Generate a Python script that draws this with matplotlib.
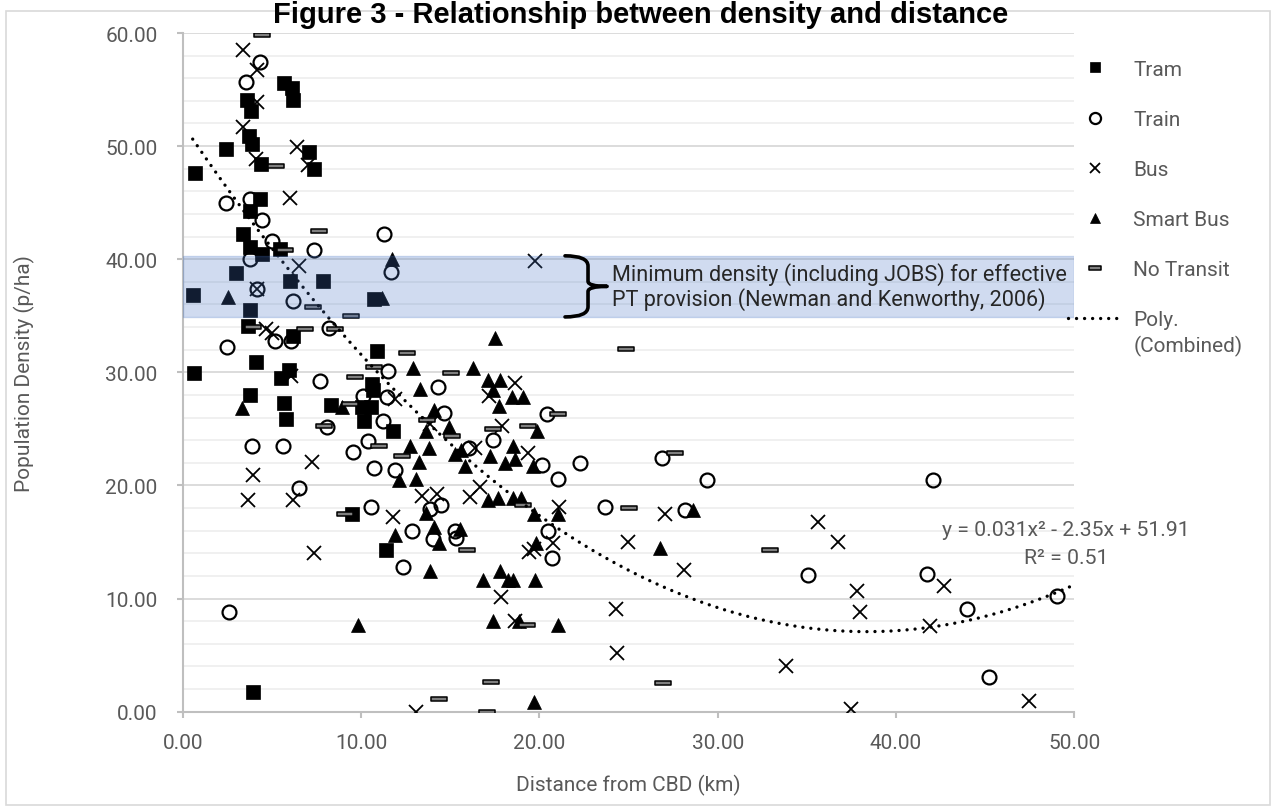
import numpy as np
import matplotlib
matplotlib.use("Agg")
import matplotlib.pyplot as plt
from matplotlib.path import Path
from matplotlib.patches import PathPatch, Rectangle
from matplotlib.ticker import FormatStrFormatter

# ---------------- data ----------------
tram_x = [5.70, 6.11, 6.20, 3.63, 3.83, 3.70, 3.90, 2.43, 7.08, 4.39, 7.38, 0.69, 4.34, 3.78,
          3.36, 3.78, 4.43, 5.46, 2.97, 6.02, 7.89, 0.56, 10.73, 3.78, 3.68, 6.17, 4.11, 10.88,
          0.63, 5.98, 5.50, 10.60, 10.69, 3.78, 5.68, 5.79, 8.32, 10.04, 10.56, 10.17, 11.81,
          9.48, 11.40, 3.93]
tram_y = [55.6, 55.1, 54.1, 54.1, 53.1, 50.9, 50.2, 49.75, 49.5, 48.4, 48.0, 47.6, 45.3, 44.3,
          42.2, 41.1, 40.5, 40.9, 38.8, 38.05, 38.05, 36.8, 36.5, 35.5, 34.1, 33.25, 30.9, 31.9,
          29.95, 30.2, 29.5, 28.97, 28.4, 28.0, 27.3, 25.9, 27.1, 26.9, 26.9, 25.7, 24.85,
          17.5, 14.3, 1.7]

train_x = [4.34, 3.55, 2.43, 3.78, 4.43, 11.31, 5.03, 7.38, 3.78, 11.68, 4.15, 6.20, 5.18, 6.06,
           2.50, 8.22, 11.50, 7.70, 10.13, 11.48, 11.25, 8.08, 3.90, 5.61, 10.41, 9.57, 10.73,
           11.91, 6.50, 10.54, 12.37, 2.62, 14.34, 14.66, 20.41, 17.42, 16.08, 20.13, 22.28,
           21.07, 26.86, 23.69, 13.87, 14.49, 12.84, 14.02, 15.27, 15.33, 20.47, 20.70, 29.42,
           42.10, 28.17, 35.05, 41.73, 43.97, 49.02, 45.22]
train_y = [57.4, 55.7, 45.0, 45.3, 43.5, 42.2, 41.6, 40.8, 40.0, 38.9, 37.4, 36.3, 32.75, 32.8,
           32.2, 33.9, 30.15, 29.2, 27.9, 27.8, 25.7, 25.15, 23.5, 23.5, 23.9, 23.0, 21.5,
           21.4, 19.8, 18.1, 12.8, 8.8, 28.7, 26.4, 26.3, 24.0, 23.3, 21.8, 22.0,
           20.6, 22.4, 18.07, 17.9, 18.3, 16.0, 15.3, 16.0, 15.4, 16.0, 13.56, 20.5,
           20.5, 17.8, 12.1, 12.15, 9.1, 10.26, 3.1]

bus_x = [3.40, 4.19, 4.15, 3.40, 6.39, 4.11, 7.01, 6.02, 6.52, 4.15, 19.76, 4.65, 5.00, 6.06,
         11.90, 7.27, 3.93, 3.64, 6.20, 11.78, 7.38, 13.07, 18.64, 17.20, 13.87, 17.89, 16.39,
         19.38, 13.40, 14.24, 16.11, 16.67, 21.12, 27.05, 20.79, 19.44, 19.70, 24.99, 17.83,
         24.30, 18.64, 24.34, 35.65, 36.73, 28.12, 42.72, 37.84, 37.99, 41.91, 33.82, 37.48,
         47.48]
bus_y = [58.5, 56.7, 53.9, 51.7, 49.96, 48.9, 48.3, 45.4, 39.4, 37.4, 39.8, 33.8, 33.5, 29.65,
         27.65, 22.1, 20.95, 18.7, 18.7, 17.2, 14.0, 0.0, 29.1, 27.9, 25.4, 25.3, 23.3,
         22.9, 19.1, 19.25, 18.95, 19.9, 18.07, 17.5, 14.9, 14.15, 14.4, 15.0, 10.1,
         9.1, 8.05, 5.2, 16.8, 15.0, 12.5, 11.1, 10.65, 8.8, 7.55, 4.0, 0.24,
         0.97]

smart_x = [2.52, 11.19, 11.72, 3.31, 8.92, 11.91, 9.85, 19.72, 17.52, 12.90, 16.30, 13.31,
           17.14, 17.80, 17.42, 18.45, 19.10, 17.76, 14.09, 13.65, 14.95, 12.75, 13.81, 19.85,
           18.54, 15.27, 15.60, 17.24, 18.64, 18.08, 19.66, 13.27, 15.83, 12.15, 13.08, 17.14,
           17.70, 18.54, 18.95, 21.07, 19.70, 13.63, 14.09, 14.37, 15.55, 19.82, 26.77, 13.87,
           16.83, 17.80, 18.23, 18.50, 19.76, 17.39, 18.88, 21.07, 28.60]
smart_y = [36.7, 36.6, 40.0, 26.85, 26.97, 15.6, 7.7, 0.9, 33.0, 30.4, 30.4, 28.5,
           29.3, 29.3, 28.45, 27.8, 27.8, 27.05, 26.7, 24.85, 25.15, 23.5, 23.3, 24.85,
           23.5, 22.8, 23.1, 22.6, 22.3, 22.0, 21.7, 22.05, 21.7, 20.5, 20.6, 18.75,
           18.9, 18.9, 18.9, 17.5, 17.5, 17.6, 16.3, 14.9, 16.15, 14.9, 14.45, 12.4,
           11.6, 12.4, 11.6, 11.6, 11.6, 8.05, 8.05, 7.7, 17.8]

none_x = [4.47, 5.21, 7.66, 5.71, 7.33, 9.44, 3.95, 6.86, 8.54, 10.73, 9.66, 9.38, 7.90, 11.00,
          9.10, 14.39, 17.05, 12.60, 24.86, 15.05, 21.07, 13.68, 15.09, 17.42, 19.38, 12.28,
          27.60, 19.10, 25.05, 15.96, 19.29, 32.94, 26.95, 17.30]
none_y = [59.8, 48.2, 42.5, 40.8, 35.75, 35.0, 34.0, 33.8, 33.8, 30.45, 29.6, 27.2, 25.3, 23.5,
          17.5, 1.1, 0.0, 31.7, 32.1, 29.9, 26.3, 25.8, 24.4, 25.0, 25.3, 22.6,
          22.9, 18.3, 17.98, 14.3, 7.7, 14.3, 2.5, 2.6]

series_names = ["Tram", "Train", "Bus", "Smart Bus", "No Transit"]
trend_label = ["Poly.", "(Combined)"]
trend_coef = [0.0305, -2.339, 51.92]          # quadratic trend (a, b, c)
eq_text = "y = 0.031x² - 2.35x + 51.91"
r2_text = "R² = 0.51"
band_lo, band_hi = 34.9, 40.3
band_text = "Minimum density (including JOBS) for effective\nPT provision (Newman and Kenworthy, 2006)"
title_text = "Figure 3 - Relationship between density and distance"
xlabel_text = "Distance from CBD (km)"
ylabel_text = "Population Density (p/ha)"

# ---------------- figure ----------------
W, H = 1277, 812
fig = plt.figure(figsize=(W / 100, H / 100), dpi=100)
FONT = ["Roboto", "DejaVu Sans"]
GRAY = "#595959"

ax = fig.add_axes([182.7 / W, 1 - 712.7 / H, (1074.3 - 182.7) / W, (712.7 - 34.0) / H])
ax.set_xlim(0, 50)
ax.set_ylim(0, 60)

# gridlines
ax.set_yticks(np.arange(0, 61, 10))
ax.set_yticks(np.arange(0, 61, 2), minor=True)
ax.set_xticks(np.arange(0, 51, 10))
ax.yaxis.grid(True, which="major", color="#d9d9d9", lw=1.3, zorder=0)
ax.yaxis.grid(True, which="minor", color="#efefef", lw=1.3, zorder=0)
ax.set_axisbelow(True)
for s in ["top", "right"]:
    ax.spines[s].set_visible(False)
for s in ["left", "bottom"]:
    ax.spines[s].set_color("#bfbfbf")
    ax.spines[s].set_linewidth(1.5)
ax.tick_params(axis="both", which="major", color="#bfbfbf", width=1.5, length=4,
               labelsize=15, labelcolor=GRAY)
ax.tick_params(axis="y", which="minor", length=0)
ax.tick_params(axis="y", which="major", pad=14)
ax.tick_params(axis="x", which="major", pad=11)
ax.xaxis.set_major_formatter(FormatStrFormatter("%.2f"))
ax.yaxis.set_major_formatter(FormatStrFormatter("%.2f"))
for lab in ax.get_xticklabels() + ax.get_yticklabels():
    lab.set_family(FONT)

# markers
dash_path = Path([(-1, -0.3), (1, -0.3), (1, 0.3), (-1, 0.3), (-1, -0.3)],
                 [Path.MOVETO, Path.LINETO, Path.LINETO, Path.LINETO, Path.CLOSEPOLY])
styles = [
    dict(marker="s", ms=9.5, mfc="black", mec="black", mew=0.5),
    dict(marker="o", ms=10, mfc="none", mec="black", mew=1.6),
    dict(marker="x", ms=9.5, mfc="black", mec="black", mew=1.3),
    dict(marker="^", ms=9.5, mfc="black", mec="black", mew=0.5),
    dict(marker=dash_path, ms=11, mfc="#7f7f7f", mec="black", mew=1.1),
]
data = [(tram_x, tram_y), (train_x, train_y), (bus_x, bus_y), (smart_x, smart_y), (none_x, none_y)]
handles = []
for (xs, ys), st, nm in zip(data, styles, series_names):
    h, = ax.plot(xs, ys, linestyle="none", zorder=3, label=nm, **st)
    handles.append(h)

# trend line
all_x = np.concatenate([np.asarray(d[0]) for d in data])
xx = np.linspace(all_x.min(), 50, 400)
yy = np.polyval(trend_coef, xx)
tl, = ax.plot(xx, yy, color="black", lw=2.4, linestyle=(0, (0.01, 2.4)),
              dash_capstyle="round", zorder=4, label=trend_label[0])
handles.append(tl)

# band overlay
ax.axhspan(band_lo, band_hi, xmin=0, xmax=1, facecolor="#4472C4", alpha=0.25,
           edgecolor="#4472C4", lw=1.0, zorder=5)

# brace (right curly brace spanning the band)
bx0, bx1, bx2 = 21.44, 22.73, 23.8
bm = (band_lo + band_hi) / 2
cy = 0.9
verts = [(bx0, band_hi),
         (bx1, band_hi), (bx1, band_hi - cy),
         (bx1, bm + 0.45),
         (bx1, bm), (bx2, bm),
         (bx1, bm), (bx1, bm - 0.45),
         (bx1, band_lo + cy),
         (bx1, band_lo), (bx0, band_lo)]
codes = [Path.MOVETO,
         Path.CURVE3, Path.CURVE3,
         Path.LINETO,
         Path.CURVE3, Path.CURVE3,
         Path.CURVE3, Path.CURVE3,
         Path.LINETO,
         Path.CURVE3, Path.CURVE3]
brace = PathPatch(Path(verts, codes), facecolor="none", edgecolor="black", lw=2.6,
                  zorder=6, clip_on=False, capstyle="round", joinstyle="round")
ax.add_patch(brace)
ax.text(24.1, bm, band_text, ha="left", va="center", fontsize=15.6, color="#262626",
        family=FONT, linespacing=1.12, zorder=7)

# trendline equation (centred block)
eq_x = 49.54
ax.text(eq_x, 16.15, eq_text, ha="center", va="center", fontsize=15.3, color=GRAY,
        family=FONT, zorder=7, clip_on=False)
ax.text(eq_x, 13.65, r2_text, ha="center", va="center", fontsize=15.3, color=GRAY,
        family=FONT, zorder=7, clip_on=False)

# axis labels
ax.set_xlabel(xlabel_text, fontsize=15, color=GRAY, family=FONT, labelpad=16)
ax.set_ylabel(ylabel_text, fontsize=15, color=GRAY, family=FONT)
ax.yaxis.set_label_coords(-0.166, 0.5)

# legend
leg = ax.legend(handles=handles, loc="upper left", bbox_transform=fig.transFigure,
                bbox_to_anchor=(1049 / W, 1 - 42 / H), frameon=False,
                handlelength=2.6, handletextpad=0.55, labelspacing=1.49, markerscale=0.8,
                prop={"family": FONT, "size": 15})
for t in leg.get_texts():
    t.set_color(GRAY)

# second line of the trend legend label, placed right under "Poly."
fig.canvas.draw()
poly_txt = leg.get_texts()[-1]
bb = poly_txt.get_window_extent()
fig.text(bb.x0 / W, (bb.y0 - 6) / H, trend_label[1], ha="left", va="top", fontsize=15,
         color=GRAY, family=FONT)

# title and border
fig.text(0.502, 1 - 23 / H, title_text, ha="center", va="baseline", fontsize=21,
         fontweight="bold", family=["Liberation Sans", "DejaVu Sans"], color="black")
fig.patches.append(Rectangle((6 / W, 1 - 806 / H), 1264 / W, 794 / H, transform=fig.transFigure,
                             facecolor="none", edgecolor="#d9d9d9", lw=1.2, zorder=-1))

fig.savefig("out.png", dpi=100)
